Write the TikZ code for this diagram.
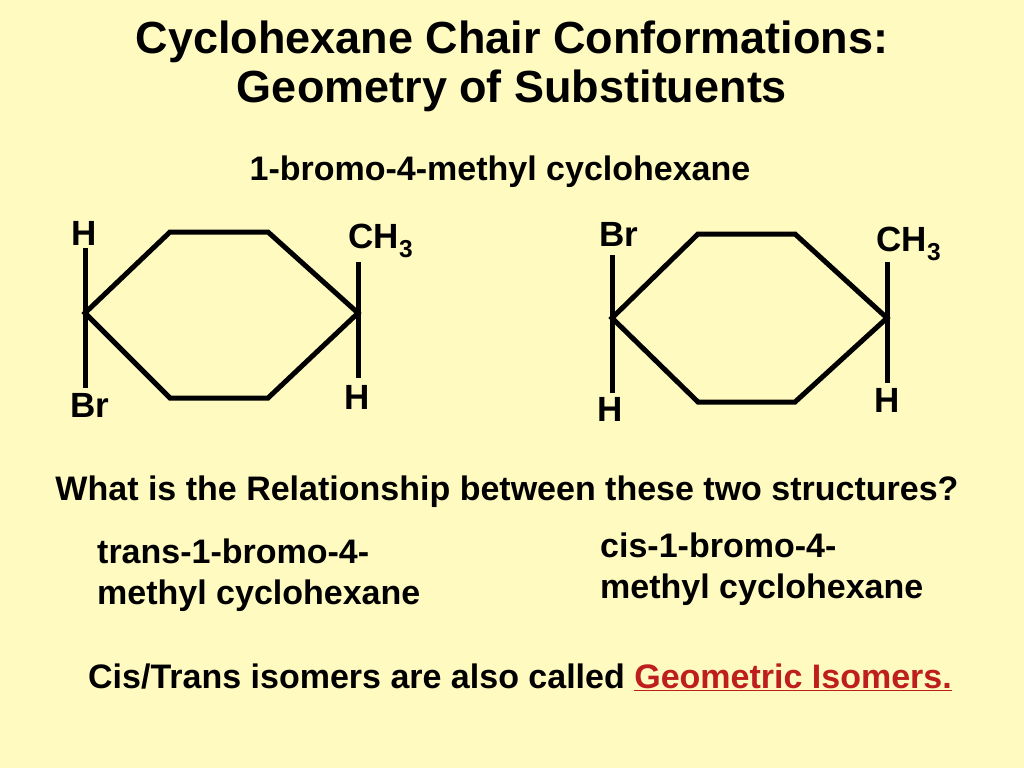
\documentclass[tikz,border=0pt]{standalone}
\usepackage{fontspec}
\setmainfont{Liberation Sans}
\definecolor{bg}{RGB}{255,250,192}
\definecolor{geo}{RGB}{190,30,30}
\begin{document}
\begin{tikzpicture}[x=1pt,y=-1pt,
  bond/.style={line width=5pt,line join=miter},
  lbl/.style={font=\fontsize{35}{40}\selectfont\bfseries,inner sep=0pt},
  txt/.style={font=\fontsize{34}{41}\selectfont\bfseries,inner sep=0pt}]
\fill[bg] (0,0) rectangle (1024,768);
\useasboundingbox (0,0) rectangle (1024,768);
\node[font=\fontsize{45}{49}\selectfont\bfseries,align=center] (title) at (512,66) {Cyclohexane Chair Conformations:\\Geometry of Substituents};
\node[txt] (sub) at (500,172) {1-bromo-4-methyl cyclohexane};
% left ring
\coordinate (a1) at (85,313); \coordinate (a2) at (170,232); \coordinate (a3) at (268,232);
\coordinate (a4) at (358,313); \coordinate (a5) at (268,398); \coordinate (a6) at (170,398);
\draw[bond] (a1)--(a2)--(a3)--(a4)--(a5)--(a6)--cycle;
\coordinate (a1u) at (85,248); \coordinate (a1d) at (85,388);
\coordinate (a4u) at (358,262); \coordinate (a4d) at (358,378);
\draw[bond] (a1u)--(a1d); \draw[bond] (a4u)--(a4d);
\node[lbl] (lh) at (84,233) {H};
\node[lbl] (lbr) at (90,405) {Br};
\node[lbl] (lch) at (381,241) {CH\textsubscript{3}};
\node[lbl] (lh2) at (357,397) {H};
% right ring
\coordinate (b1) at (612,318); \coordinate (b2) at (698,234); \coordinate (b3) at (795,234);
\coordinate (b4) at (887,318); \coordinate (b5) at (795,402); \coordinate (b6) at (698,402);
\draw[bond] (b1)--(b2)--(b3)--(b4)--(b5)--(b6)--cycle;
\coordinate (b1u) at (612,255); \coordinate (b1d) at (612,393);
\coordinate (b4u) at (887,262); \coordinate (b4d) at (887,383);
\draw[bond] (b1u)--(b1d); \draw[bond] (b4u)--(b4d);
\node[lbl] (rbr) at (619,234) {Br};
\node[lbl] (rh) at (610,409) {H};
\node[lbl] (rch) at (909,244) {CH\textsubscript{3}};
\node[lbl] (rh2) at (887,400) {H};
\node[txt] (q) at (507,492) {What is the Relationship between these two structures?};
\node[txt,anchor=west,align=left] (trans) at (97,575) {trans-1-bromo-4-\\methyl cyclohexane};
\node[txt,anchor=west,align=left] (cis) at (600,569) {cis-1-bromo-4-\\methyl cyclohexane};
\node[txt] (iso) at (520,677) {Cis/Trans isomers are also called \textcolor{geo}{\underline{Geometric Isomers.}}};
\end{tikzpicture}
\end{document}
